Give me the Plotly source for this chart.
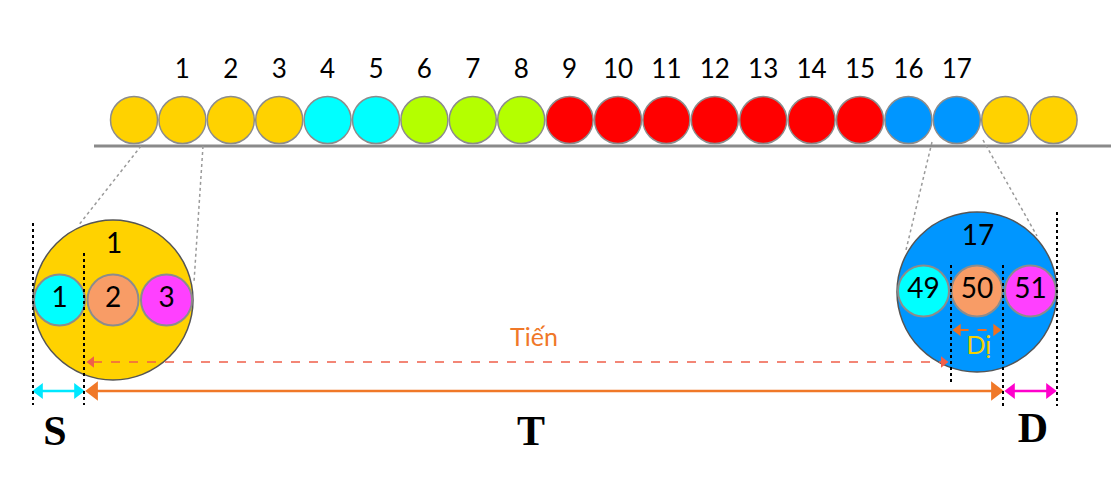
import plotly.graph_objects as go

W, H = 1111, 483

# top row of balls (left to right) and the numbers written above them
ball_colors = (["#FFD200"] * 4 + ["#00FFFF"] * 2 + ["#B4FF00"] * 3 +
               ["#FF0000"] * 7 + ["#0096FF"] * 2 + ["#FFD200"] * 2)
top_labels = [str(i) for i in range(1, 18)]

# the two zoomed balls and their three inner parts
big_labels = ["1", "17"]
big_colors = ["#FFD200", "#0096FF"]
inner_labels = [["1", "2", "3"], ["49", "50", "51"]]
inner_colors = ["#00FFFF", "#F89C66", "#FF40FF"]

# names of the distances
span_names = ["S", "T", "D"]
arrow_texts = ["Tiến", "Dị"]

FONT = "Lato, Open Sans, sans-serif"

fig = go.Figure()

# ---- geometry ----
row_x0, row_step, row_y, row_d = 134, 48.4, 120, 47
row_x = [row_x0 + i * row_step for i in range(len(ball_colors))]

big_cx = [113, 977]
big_cy = [300, 292]
big_d = 160
inner_step = 53.5
inner_d = 51

# baseline under the balls
fig.add_shape(type="line", x0=94, x1=W, y0=146, y1=146,
              line=dict(color="#8a8a8a", width=3), layer="below")

# dotted connectors from the row to the zoomed balls
conn = [((141, 146), (78, 226)), ((203, 146), (194, 282)),
        ((932, 142), (906, 250)), ((983, 140), (1037, 236))]
for (xa, ya), (xb, yb) in conn:
    fig.add_shape(type="line", x0=xa, y0=ya, x1=xb, y1=yb,
                  line=dict(color="#9a9a9a", width=1.5, dash="dot"), layer="below")

# row of balls
fig.add_trace(go.Scatter(
    x=row_x, y=[row_y] * len(row_x), mode="markers",
    marker=dict(size=row_d, color=ball_colors, line=dict(color="#8c8c8c", width=1.5)),
    hoverinfo="skip", showlegend=False,
))
fig.add_trace(go.Scatter(
    x=row_x[1:1 + len(top_labels)], y=[71] * len(top_labels), mode="text",
    text=top_labels, textfont=dict(family=FONT, size=26, color="black"),
    hoverinfo="skip", showlegend=False,
))

# zoomed balls
fig.add_trace(go.Scatter(
    x=big_cx, y=big_cy, mode="markers",
    marker=dict(size=big_d, color=big_colors, line=dict(color="#555555", width=1.5)),
    hoverinfo="skip", showlegend=False,
))
fig.add_trace(go.Scatter(
    x=[c + 1 for c in big_cx], y=[c - 54 for c in big_cy], mode="text",
    text=big_labels, textfont=dict(family=FONT, size=28, color="black"),
    hoverinfo="skip", showlegend=False,
))
for k in range(2):
    xs = [big_cx[k] + (j - 1) * inner_step for j in range(3)]
    ys = [big_cy[k] - (1 if k else 0)] * 3
    fig.add_trace(go.Scatter(
        x=xs, y=ys, mode="markers+text",
        marker=dict(size=inner_d, color=inner_colors, line=dict(color="#8c8c8c", width=2)),
        text=inner_labels[k], textposition="middle center",
        textfont=dict(family=FONT, size=28, color="black"),
        hoverinfo="skip", showlegend=False,
    ))

# vertical dotted guides
guides = [(33, 223, 405), (84, 253, 405), (951, 265, 383), (1003, 265, 406), (1057, 212, 406)]
for gx, g0, g1 in guides:
    fig.add_shape(type="line", x0=gx, x1=gx, y0=g0, y1=g1,
                  line=dict(color="black", width=2, dash="dot"))


def arrow(xa, xb, y, color, width, dash, head):
    fig.add_shape(type="line", x0=xa + head * 0.6, x1=xb - head * 0.6, y0=y, y1=y,
                  line=dict(color=color, width=width, dash=dash))
    fig.add_trace(go.Scatter(
        x=[xa + head * 0.45, xb - head * 0.45], y=[y, y], mode="markers",
        marker=dict(symbol=["triangle-left", "triangle-right"], size=head, color=color,
                    line=dict(width=0)),
        hoverinfo="skip", showlegend=False,
    ))


arrow(33, 84, 391, "#00E8FF", 2.5, "solid", 14)
arrow(86, 1003, 391, "#F07828", 2.5, "solid", 17)
arrow(1005, 1056, 391, "#FF00CC", 2.5, "solid", 14)
arrow(87, 948, 362, "#F05F4A", 1.5, "dash", 10)
arrow(953, 1001, 330, "#F07020", 2, "dash", 11)

fig.add_trace(go.Scatter(
    x=[534, 979], y=[340, 348], mode="text", text=arrow_texts,
    textfont=dict(family=FONT, size=25, color=["#F07828", "#F5D000"]),
    hoverinfo="skip", showlegend=False,
))

fig.add_trace(go.Scatter(
    x=[55, 531, 1033], y=[434, 434, 431], mode="text", text=span_names,
    textfont=dict(family="Liberation Serif, Times New Roman, serif", size=42, color="black",
                  weight="bold"),
    hoverinfo="skip", showlegend=False,
))

fig.update_xaxes(range=[0, W], visible=False, fixedrange=True)
fig.update_yaxes(range=[H, 0], visible=False, fixedrange=True)
fig.update_layout(
    width=W, height=H,
    margin=dict(l=0, r=0, t=0, b=0),
    plot_bgcolor="white", paper_bgcolor="white",
    showlegend=False,
)

# drop the browser's default page margin so the picture sits at 0,0
fig.write_html("out.html", config={"displayModeBar": False},
               post_script="document.body.style.margin = '0';")
